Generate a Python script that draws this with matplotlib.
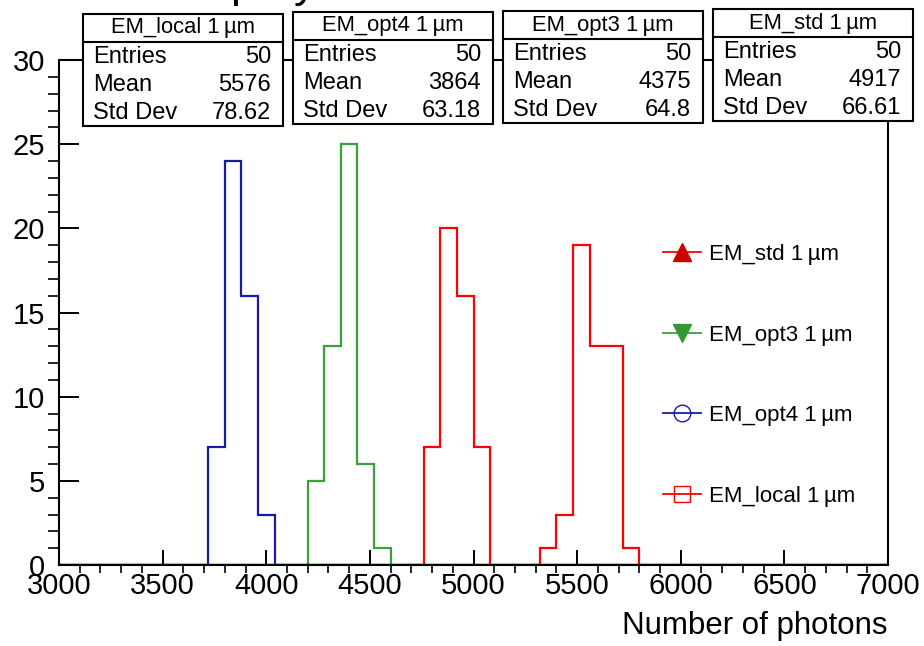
import matplotlib.pyplot as plt
import numpy as np
from matplotlib.lines import Line2D
from matplotlib.patches import Rectangle
from matplotlib.ticker import MultipleLocator

plt.rcParams['font.family'] = ['Liberation Sans', 'DejaVu Sans']

# histogram binning: 50 bins from 3000 to 7000
x_min, x_max, n_bins = 3000, 7000, 50

# non-empty bins of each histogram (first bin low edge, counts)
std_start, std_counts = 4760, [7, 20, 16, 7]
opt3_start, opt3_counts = 4200, [5, 13, 25, 6, 1]
opt4_start, opt4_counts = 3720, [7, 24, 16, 3]
local_start, local_counts = 5320, [1, 3, 19, 13, 13, 1]

# stat boxes
box_names = ['EM_local 1\u2009\u00b5m', 'EM_opt4 1\u2009\u00b5m', 'EM_opt3 1\u2009\u00b5m', 'EM_std 1\u2009\u00b5m']
box_entries = [50, 50, 50, 50]
box_means = ['5576', '3864', '4375', '4917']
box_stds = ['78.62', '63.18', '64.8', '66.61']

legend_labels = ['EM_std 1\u2009\u00b5m', 'EM_opt3 1\u2009\u00b5m', 'EM_opt4 1\u2009\u00b5m', 'EM_local 1\u2009\u00b5m']

W, H = 924, 646


def fx(px):
    return px / W


def fy(py):
    return 1 - py / H


edges = np.linspace(x_min, x_max, n_bins + 1)
width = (x_max - x_min) / n_bins


def full_counts(start, counts):
    arr = np.zeros(n_bins)
    i0 = int(round((start - x_min) / width))
    arr[i0:i0 + len(counts)] = counts
    return arr


fig = plt.figure(figsize=(9.24, 6.46), dpi=100)
ax = fig.add_axes([fx(59), fy(565), fx(888) - fx(59), fy(60) - fy(565)])

red = '#ff0000'
green = '#3ca03c'
blue = '#1a1aa6'

ax.stairs(full_counts(std_start, std_counts), edges, color=red, lw=1.6, baseline=0)
ax.stairs(full_counts(opt3_start, opt3_counts), edges, color=green, lw=1.6, baseline=0)
ax.stairs(full_counts(opt4_start, opt4_counts), edges, color=blue, lw=1.6, baseline=0)
ax.stairs(full_counts(local_start, local_counts), edges, color=red, lw=1.6, baseline=0)

ax.set_xlim(x_min, x_max)
ax.set_ylim(0, 30)
ax.xaxis.set_major_locator(MultipleLocator(500))
ax.xaxis.set_minor_locator(MultipleLocator(100))
ax.yaxis.set_major_locator(MultipleLocator(5))
ax.yaxis.set_minor_locator(MultipleLocator(1))
ax.tick_params(direction='in', top=False, right=False, width=1.4, labelsize=21)
ax.tick_params(axis='x', which='major', length=11, pad=5)
ax.tick_params(axis='x', which='minor', length=5.5, width=1.2)
ax.tick_params(axis='y', which='major', length=14.5, pad=10)
ax.tick_params(axis='y', which='minor', length=7.7, width=1.2)
for s in ax.spines.values():
    s.set_linewidth(1.5)

ax.set_xlabel('Number of photons', fontsize=22.5, loc='right', labelpad=8)

# legend
handles = [
    Line2D([], [], color=red, lw=1.3, marker='^', markersize=13, markerfacecolor='#cc0000', markeredgecolor='#cc0000'),
    Line2D([], [], color=green, lw=1.3, marker='v', markersize=13, markerfacecolor='#339933', markeredgecolor='#339933'),
    Line2D([], [], color=blue, lw=1.3, marker='o', markersize=12, markerfacecolor='none', markeredgecolor=blue),
    Line2D([], [], color=red, lw=1.3, marker='s', markersize=11, markerfacecolor='none', markeredgecolor=red),
]
ax.legend(handles, legend_labels, loc='upper left', bbox_to_anchor=(fx(663), fy(244)),
          bbox_transform=fig.transFigure, frameon=False, fontsize=16,
          labelspacing=2.68, handlelength=1.7, handletextpad=0.35, borderpad=0, borderaxespad=0)

# partly hidden title (only descenders peek out above the stat boxes)
fig.text(fx(230), fy(-3), 'p', fontsize=32, va='baseline', ha='left', zorder=1)
fig.text(fx(294), fy(-3), 'y', fontsize=32, va='baseline', ha='left', zorder=1)

# stat boxes
box_lefts = [83, 293, 503, 713]
box_tops = [14, 12, 11, 9]
box_w, box_h, title_h = 200, 112, 28
for i in range(4):
    l, t = box_lefts[i], box_tops[i]
    fig.add_artist(Rectangle((fx(l), fy(t + box_h)), box_w / W, box_h / H, transform=fig.transFigure,
                             facecolor='white', edgecolor='black', lw=1.5, zorder=5))
    fig.add_artist(Line2D([fx(l), fx(l + box_w)], [fy(t + title_h), fy(t + title_h)],
                          transform=fig.transFigure, color='black', lw=1.5, zorder=6))
    fig.text(fx(l + box_w / 2), fy(t + 14), box_names[i], fontsize=15.8, ha='center', va='center', zorder=7)
    rows = [('Entries', str(box_entries[i])), ('Mean', box_means[i]), ('Std Dev', box_stds[i])]
    for j, (name, val) in enumerate(rows):
        yy = fy(t + 43 + 28 * j)
        fig.text(fx(l + 10), yy, name, fontsize=17, ha='left', va='center', zorder=7)
        fig.text(fx(l + box_w - 12), yy, val, fontsize=17, ha='right', va='center', zorder=7)

plt.savefig('out.png', dpi=100)
